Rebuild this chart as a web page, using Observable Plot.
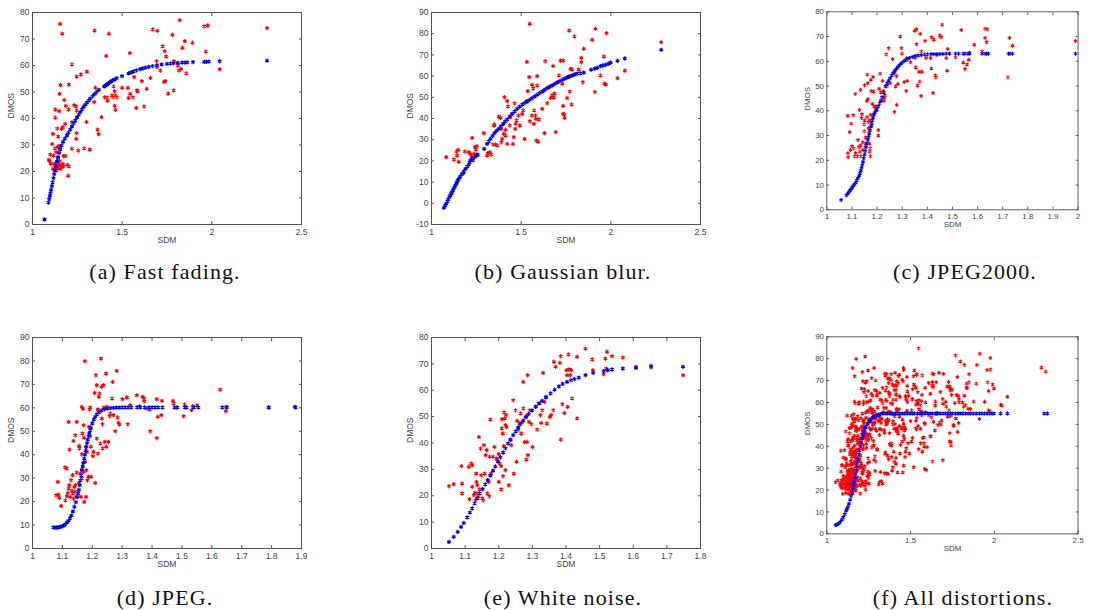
<!DOCTYPE html>
<html><head><meta charset="utf-8">
<script src="https://cdn.jsdelivr.net/npm/d3@7"></script>
<script src="https://cdn.jsdelivr.net/npm/@observablehq/plot@0.6"></script>
<style>
body{margin:0;background:#fff;}
#wrap{position:relative;width:1100px;height:610px;overflow:hidden;background:#fff;}
.panel{position:absolute;}
.cap{position:absolute;font-family:"Liberation Serif","Times New Roman",serif;font-size:22px;letter-spacing:1.1px;line-height:24px;color:#111;white-space:nowrap;transform:translateX(-50%);}
</style></head><body><div id="wrap"></div>
<script>
// ---- (a) Fast fading ----
const ffRed = [[1.154,75.7],[1.166,72],[1.346,73.2],[1.426,72],[1.22,60.4],[1.303,57.7],[1.246,55.8],[1.27,56.6],[1.203,52.8],[1.156,52.6],[1.151,49.3],[1.177,47],[1.186,44.8],[1.233,45],[1.244,44.5],[1.127,43.4],[1.149,42.8],[1.201,43.4],[1.246,43],[1.127,40.3],[1.22,38.6],[1.182,38],[1.162,36.1],[1.138,36.2],[1.169,36.7],[1.114,34.2],[1.143,33.2],[1.246,34.5],[1.244,32.3],[1.11,30.4],[1.14,29.2],[1.147,29.7],[1.125,28.7],[1.22,28.6],[1.288,28.7],[1.32,28.3],[1.255,27.9],[1.099,26.4],[1.117,26],[1.132,27.3],[1.154,28.6],[1.173,25.8],[1.182,25.9],[1.141,24.5],[1.091,24.4],[1.095,23.9],[1.151,23.9],[1.102,22.9],[1.121,22.9],[1.13,22.5],[1.149,22.5],[1.169,22.9],[1.194,22.5],[1.114,21],[1.127,21.6],[1.14,21.3],[1.154,21],[1.164,21.6],[1.134,20.4],[1.203,21.9],[1.199,18.4],[1.147,22.5],[1.173,22],[1.385,40.5],[1.363,35.8],[1.369,34.1],[1.301,38.7],[1.344,46.2],[1.351,51.6],[1.411,63.6],[1.402,48],[1.415,48],[1.419,46.7],[1.443,48.7],[1.449,48],[1.462,48.7],[1.458,50.3],[1.458,44.8],[1.463,43.3],[1.47,48],[1.452,52.1],[1.543,64.7],[1.5,51.6],[1.532,51.6],[1.536,47.8],[1.545,49.3],[1.56,48],[1.567,55.6],[1.579,44],[1.583,50.6],[1.586,50.2],[1.61,54.1],[1.622,44.5],[1.637,51.2],[1.658,55.3],[1.67,73.6],[1.696,73.1],[1.692,61.6],[1.694,59.4],[1.713,58.1],[1.726,67.2],[1.737,65.4],[1.745,63.4],[1.741,54.1],[1.733,53.8],[1.757,49.4],[1.78,71.6],[1.789,61.6],[1.787,50.6],[1.821,77.1],[1.811,60],[1.817,58.1],[1.828,58.7],[1.836,66.7],[1.849,69.2],[1.858,57],[1.892,68.6],[1.957,74.8],[1.977,75.1],[1.966,65.3],[2.044,58.6],[2.308,74.1]];
const ffFit = [[1.067,1.9],[1.089,8.3],[1.093,9.6],[1.097,10.8],[1.1,11.8],[1.104,13.1],[1.108,14.5],[1.112,15.9],[1.117,17.5],[1.121,19],[1.125,20.4],[1.13,22],[1.136,23.8],[1.142,25.4],[1.148,27],[1.154,28.3],[1.162,29.8],[1.17,31.2],[1.18,32.4],[1.192,33.6],[1.2,34.6],[1.21,35.8],[1.22,37],[1.23,38.2],[1.238,39.2],[1.248,40.4],[1.258,41.5],[1.266,42.4],[1.275,43.4],[1.285,44.4],[1.294,45.2],[1.303,46],[1.313,46.8],[1.322,47.5],[1.335,48.4],[1.346,49.2],[1.358,50],[1.37,50.8],[1.4,52.1],[1.408,52.5],[1.415,52.9],[1.422,53.2],[1.43,53.6],[1.438,54],[1.446,54.3],[1.454,54.6],[1.462,54.9],[1.47,55.2],[1.499,56],[1.536,57],[1.55,57.4],[1.564,57.8],[1.58,58.2],[1.601,58.6],[1.615,58.9],[1.63,59.2],[1.648,59.5],[1.67,59.8],[1.694,60.1],[1.72,60.4],[1.75,60.6],[1.77,60.8],[1.787,60.9],[1.81,61],[1.834,61.1],[1.85,61.1],[1.862,61.2],[1.895,61.3],[1.958,61.4],[1.97,61.4],[1.983,61.5],[2.044,61.6],[2.308,61.8]];

// ---- (b) Gaussian blur ----
const gbRed = [[1.082,21.8],[1.125,20.7],[1.139,24.4],[1.149,25.2],[1.143,22.5],[1.152,19.6],[1.186,24.4],[1.208,24.1],[1.217,23.3],[1.223,22.5],[1.227,21.8],[1.232,20.2],[1.227,30.9],[1.242,26.5],[1.247,25.4],[1.253,27],[1.238,23.3],[1.251,23],[1.292,33.1],[1.31,22.5],[1.314,23.6],[1.325,24.1],[1.333,23],[1.344,27.7],[1.351,37.2],[1.348,36.7],[1.357,27.7],[1.366,27.3],[1.375,40.9],[1.385,40.3],[1.388,35.1],[1.394,30.4],[1.39,28.8],[1.4,37.5],[1.403,32.8],[1.413,34.7],[1.407,50.1],[1.422,48.2],[1.426,45.7],[1.413,32],[1.422,28],[1.437,36.7],[1.44,40.6],[1.45,42.2],[1.454,28],[1.459,31.2],[1.463,47.2],[1.47,37.5],[1.474,39.1],[1.467,35.1],[1.485,41.4],[1.493,36.7],[1.532,66.7],[1.537,52.9],[1.506,42.2],[1.511,43.8],[1.519,30.4],[1.53,48.2],[1.545,59.5],[1.548,84.7],[1.549,38.7],[1.56,41.4],[1.561,55.9],[1.567,54.2],[1.571,37.5],[1.572,43.8],[1.58,41.4],[1.582,39.8],[1.584,29.6],[1.589,60],[1.594,29.1],[1.599,39.6],[1.589,55.6],[1.617,44.6],[1.626,53.2],[1.63,33.1],[1.634,67],[1.645,47.2],[1.654,54.7],[1.664,49.7],[1.673,50.9],[1.678,64.8],[1.682,49.9],[1.686,51.8],[1.693,33.6],[1.71,60.3],[1.719,67.3],[1.734,67.3],[1.729,56.4],[1.734,46],[1.734,42.2],[1.74,41.9],[1.742,40.3],[1.756,49.7],[1.764,59.8],[1.768,81.5],[1.771,52.7],[1.775,63.4],[1.781,46.6],[1.784,63.1],[1.797,78.7],[1.821,63.1],[1.835,66.6],[1.835,68.6],[1.844,57.1],[1.849,72.9],[1.896,77.1],[1.914,82.3],[1.911,52.5],[1.942,60.3],[1.961,69.2],[1.965,56.4],[1.976,80.3],[1.972,56],[1.998,66.4],[2.037,59],[2.078,62.6],[2.281,76]];
const gbFit = [[1.069,-2.1],[1.076,-1.1],[1.082,-0.2],[1.088,0.9],[1.093,1.8],[1.1,2.9],[1.105,3.7],[1.11,4.5],[1.114,5.2],[1.119,6],[1.123,6.8],[1.128,7.6],[1.133,8.4],[1.138,9.2],[1.142,10],[1.147,10.8],[1.151,11.4],[1.156,12],[1.16,12.6],[1.17,13.8],[1.177,14.2],[1.18,15],[1.19,16.2],[1.2,17.4],[1.208,18.3],[1.213,19.3],[1.217,20.2],[1.223,20.6],[1.229,21],[1.24,21.8],[1.251,22.5],[1.258,23],[1.294,25.7],[1.31,28],[1.32,29.2],[1.329,30.4],[1.34,31.8],[1.351,33.1],[1.362,34.2],[1.375,35.1],[1.387,36.4],[1.4,37.5],[1.41,38.6],[1.422,39.5],[1.436,40.9],[1.45,42.2],[1.464,43.4],[1.478,44.6],[1.492,45.6],[1.506,46.6],[1.52,47.3],[1.533,48],[1.547,48.8],[1.561,49.6],[1.575,50.4],[1.589,51.2],[1.603,52],[1.617,52.7],[1.631,53.5],[1.645,54.3],[1.659,55],[1.673,55.6],[1.687,56.3],[1.701,57],[1.715,57.6],[1.729,58.2],[1.742,58.8],[1.756,59.3],[1.77,59.8],[1.784,60.3],[1.798,60.8],[1.812,61.2],[1.83,61.3],[1.849,61.6],[1.89,63],[1.91,63.5],[1.924,63.9],[1.942,64.7],[1.955,65],[1.97,65.3],[1.985,65.8],[1.998,66.3],[2.037,67.2],[2.078,68.3],[2.281,72.4]];

// ---- (c) JPEG2000 ----
const ccRed = [[1.084,38],[1.097,34.8],[1.091,31.4],[1.105,38.2],[1.084,22.9],[1.085,21.3],[1.094,24.2],[1.1,25.7],[1.107,24.8],[1.11,21.6],[1.113,46.8],[1.115,22.9],[1.122,21.6],[1.124,28.2],[1.128,25.4],[1.13,40.3],[1.132,23.5],[1.134,26],[1.136,21.6],[1.134,48.4],[1.138,37.1],[1.14,38.6],[1.143,27.3],[1.144,24.2],[1.148,34.5],[1.149,31.7],[1.15,36.1],[1.15,50.3],[1.153,25.4],[1.155,29.2],[1.156,26.7],[1.159,44],[1.16,37.4],[1.161,54.6],[1.163,51.2],[1.164,44.8],[1.165,35.5],[1.166,33],[1.169,32],[1.171,36.1],[1.169,26.7],[1.172,24.8],[1.175,38.4],[1.175,52.5],[1.177,48],[1.179,34],[1.181,42.8],[1.184,53.7],[1.186,47.8],[1.187,41.8],[1.192,41.5],[1.196,41.8],[1.171,23.5],[1.174,21.6],[1.205,32.2],[1.205,30],[1.212,55],[1.208,48.9],[1.215,47.4],[1.217,44],[1.221,52.1],[1.225,48],[1.227,44],[1.231,46.2],[1.228,45.2],[1.236,62.8],[1.246,65.3],[1.239,49.9],[1.252,51.2],[1.262,60.9],[1.27,55.3],[1.274,49.8],[1.277,54],[1.278,42.4],[1.269,39.5],[1.283,50.9],[1.292,70],[1.297,65.3],[1.299,63.1],[1.308,51.6],[1.316,48],[1.32,52.1],[1.318,61.3],[1.333,59.6],[1.349,72.3],[1.357,73],[1.357,66.9],[1.351,61.3],[1.354,57.5],[1.361,50.2],[1.367,55.8],[1.37,51.8],[1.372,71.1],[1.376,64],[1.378,55.8],[1.375,46],[1.391,68.2],[1.395,61.3],[1.413,61.3],[1.416,57.1],[1.417,69.7],[1.426,68.8],[1.423,47.2],[1.432,54.3],[1.434,53.5],[1.438,62.5],[1.45,70.4],[1.455,69.7],[1.459,74.8],[1.475,61.3],[1.479,56.2],[1.481,65],[1.488,63.1],[1.512,61.6],[1.535,72.6],[1.543,59.4],[1.55,56.9],[1.558,58.7],[1.565,60.6],[1.568,63.5],[1.587,66.7],[1.618,64],[1.63,69.4],[1.63,73.2],[1.636,67.7],[1.639,72.9],[1.721,53.5],[1.727,69.4],[1.739,66.3],[1.99,68.2]];
const ccFit = [[1.057,4],[1.078,5.9],[1.083,6.5],[1.088,7.2],[1.092,7.8],[1.097,8.4],[1.101,9],[1.105,9.7],[1.11,10.3],[1.115,10.9],[1.119,11.8],[1.124,12.8],[1.128,13.7],[1.132,14.7],[1.135,15.8],[1.138,16.9],[1.141,18.1],[1.144,19.4],[1.147,20.8],[1.15,22.3],[1.153,23.8],[1.156,25.4],[1.159,26.8],[1.163,28.2],[1.166,29.4],[1.169,30.7],[1.172,32.1],[1.175,33.6],[1.178,34.8],[1.181,36.1],[1.184,37.2],[1.187,38.4],[1.19,39.2],[1.195,40],[1.199,40.5],[1.205,41.8],[1.21,43],[1.215,44],[1.22,45.5],[1.227,47.4],[1.233,49.9],[1.24,51],[1.246,52.1],[1.252,53.2],[1.258,54.3],[1.264,55.3],[1.27,56.2],[1.277,57],[1.283,57.7],[1.289,58.4],[1.295,59],[1.303,59.7],[1.311,60.3],[1.32,60.8],[1.329,61.3],[1.34,61.7],[1.351,62.1],[1.363,62.3],[1.376,62.5],[1.39,62.7],[1.401,62.8],[1.415,62.9],[1.426,62.9],[1.438,63],[1.45,63],[1.462,63],[1.475,63.1],[1.488,63.1],[1.512,63.1],[1.525,63.1],[1.543,63.1],[1.55,63.1],[1.562,63.1],[1.568,63.1],[1.618,63.1],[1.63,63.1],[1.636,63.1],[1.643,63.1],[1.723,63.1],[1.729,63.1],[1.739,63.1],[1.99,63.1]];

// ---- (d) JPEG ----
const jpRed = [[1.085,28.4],[1.079,22.7],[1.087,23],[1.09,21.6],[1.096,18.2],[1.109,34.6],[1.115,34.1],[1.11,20.5],[1.115,22.3],[1.118,23.7],[1.121,25.6],[1.123,27],[1.126,22],[1.124,42.2],[1.121,54],[1.129,29.1],[1.132,24.6],[1.134,31.3],[1.135,23.5],[1.137,21.3],[1.14,26.3],[1.142,24.2],[1.144,27],[1.146,22],[1.137,45.9],[1.143,48.3],[1.148,54],[1.148,32.4],[1.151,23.5],[1.155,28],[1.156,43.8],[1.157,42.7],[1.16,32],[1.162,22],[1.165,29.9],[1.165,40.2],[1.167,49.1],[1.165,60.4],[1.169,59.6],[1.171,52.6],[1.173,47.2],[1.173,19.9],[1.175,79.9],[1.171,32.7],[1.176,37],[1.179,43.4],[1.179,22],[1.18,33.4],[1.182,41.2],[1.184,29.1],[1.187,30.6],[1.189,51.9],[1.191,59.4],[1.193,60.1],[1.193,47.9],[1.195,43.4],[1.196,30.6],[1.202,39.4],[1.204,41.2],[1.208,66.4],[1.21,28],[1.212,73.9],[1.215,69.7],[1.219,59.3],[1.215,46.9],[1.219,40.5],[1.222,64.7],[1.224,66.1],[1.227,44.8],[1.229,81],[1.231,69],[1.232,55.4],[1.234,53],[1.235,42.7],[1.238,69.7],[1.239,60.1],[1.242,45.5],[1.246,74.6],[1.247,43.4],[1.249,60.4],[1.254,45.5],[1.258,56.4],[1.26,57.6],[1.266,64],[1.268,71.1],[1.271,56.9],[1.277,50],[1.282,75.8],[1.285,55.9],[1.288,53.6],[1.291,52.9],[1.301,63.7],[1.316,64.4],[1.319,53],[1.327,61.1],[1.349,65.4],[1.358,60.7],[1.368,64.7],[1.372,64.3],[1.374,62.8],[1.383,59.7],[1.394,50],[1.392,59.3],[1.416,63.7],[1.416,47.1],[1.419,56.2],[1.431,56.9],[1.433,63],[1.47,63],[1.472,61.9],[1.481,60.1],[1.506,56.4],[1.509,61.4],[1.532,59],[1.536,60.7],[1.55,61],[1.628,67.8],[1.648,60.4],[1.647,58.6],[1.79,60.1],[1.877,60.4]];
const jpFit = [[1.07,9],[1.075,8.9],[1.08,8.9],[1.085,9],[1.09,9.1],[1.095,9.3],[1.1,9.5],[1.105,9.9],[1.11,10.3],[1.115,11],[1.12,11.8],[1.125,12.8],[1.13,14],[1.135,15.8],[1.14,17.8],[1.145,19.8],[1.15,22],[1.153,23.5],[1.155,25],[1.158,27],[1.16,29],[1.163,31.2],[1.165,33.5],[1.168,35],[1.17,36.5],[1.173,38.3],[1.175,40],[1.178,41.7],[1.18,43.3],[1.183,45],[1.185,46.5],[1.188,48],[1.19,49.2],[1.193,50.4],[1.195,51.5],[1.2,53.4],[1.205,55],[1.21,56.2],[1.215,57.2],[1.222,58.1],[1.23,58.8],[1.24,59.4],[1.25,59.7],[1.26,59.9],[1.27,60],[1.28,60.1],[1.29,60.1],[1.3,60.2],[1.31,60.2],[1.32,60.2],[1.33,60.2],[1.35,60.2],[1.36,60.2],[1.375,60.2],[1.39,60.2],[1.4,60.2],[1.41,60.2],[1.42,60.2],[1.435,60.2],[1.475,60.2],[1.485,60.2],[1.51,60.2],[1.515,60.2],[1.54,60.2],[1.555,60.2],[1.635,60.2],[1.65,60.2],[1.79,60.2],[1.88,60.2]];

// ---- (e) White noise ----
const wnRed = [[1.052,23.6],[1.066,24.4],[1.089,31.3],[1.091,24.6],[1.091,20.9],[1.111,31],[1.113,18.7],[1.118,32.2],[1.121,31.6],[1.121,23.4],[1.126,20.2],[1.129,21.1],[1.131,18.3],[1.133,28.4],[1.134,25.3],[1.136,24],[1.138,20.9],[1.139,19.6],[1.141,42.3],[1.143,22.4],[1.146,37.9],[1.148,27.8],[1.151,19],[1.154,18.3],[1.156,39.2],[1.158,28.4],[1.161,35.4],[1.164,37.3],[1.166,20.9],[1.17,25.3],[1.172,19.8],[1.173,34.8],[1.175,48.9],[1.177,28.4],[1.183,34.8],[1.187,38.5],[1.193,34.1],[1.195,33.7],[1.2,35.8],[1.203,32.2],[1.2,25.3],[1.207,31.2],[1.207,22.4],[1.209,45.5],[1.21,49],[1.212,43.6],[1.213,27.4],[1.215,38.8],[1.216,51.6],[1.218,49.3],[1.22,46.8],[1.22,29.7],[1.222,50.6],[1.223,46.1],[1.23,24],[1.235,41.1],[1.237,39.2],[1.243,56.2],[1.245,28.4],[1.25,52.4],[1.253,32.9],[1.255,48.4],[1.257,44.9],[1.262,47.4],[1.265,51.2],[1.267,43.6],[1.27,48],[1.273,63.2],[1.273,53.1],[1.277,40.3],[1.28,49.9],[1.282,33.7],[1.284,40.4],[1.285,50.6],[1.286,65.7],[1.287,35.4],[1.29,48],[1.292,52.4],[1.297,47.1],[1.3,38.5],[1.31,53.7],[1.314,45.1],[1.324,50.6],[1.326,47.6],[1.329,52.4],[1.332,66.6],[1.336,55.6],[1.341,57.5],[1.343,47.4],[1.352,49.9],[1.356,50.6],[1.362,52.4],[1.364,70.8],[1.369,68.9],[1.382,70.4],[1.384,72.9],[1.384,41.3],[1.389,54.7],[1.395,51.4],[1.401,67.6],[1.403,65.7],[1.405,53.7],[1.407,73.6],[1.409,67.9],[1.413,65.7],[1.416,67.6],[1.418,56.9],[1.433,49.3],[1.433,72.7],[1.458,75.8],[1.478,71.7],[1.48,67.6],[1.512,66.1],[1.517,72],[1.52,68.2],[1.522,74.6],[1.524,67.6],[1.537,72.9],[1.569,72.4],[1.608,68.9],[1.653,69.3],[1.748,65.7]];
const wnFit = [[1.052,2.5],[1.066,4.4],[1.078,6.3],[1.088,8.2],[1.096,9.7],[1.106,11.8],[1.114,13.6],[1.121,15.2],[1.128,17.1],[1.136,19],[1.144,20.9],[1.152,22.5],[1.16,24.3],[1.167,25.9],[1.175,27.7],[1.183,29.5],[1.19,31.1],[1.198,32.9],[1.205,34.6],[1.213,36.4],[1.22,38],[1.228,39.8],[1.235,41.3],[1.243,43],[1.25,44.4],[1.258,45.9],[1.265,47.2],[1.273,48.5],[1.281,49.8],[1.289,51],[1.299,52.4],[1.31,53.8],[1.32,55],[1.329,56],[1.34,57.3],[1.354,58.8],[1.366,60.2],[1.379,61.5],[1.39,62.4],[1.403,63.2],[1.415,63.8],[1.425,64.2],[1.438,64.8],[1.458,65.7],[1.481,66.6],[1.512,67.2],[1.524,67.6],[1.537,67.9],[1.569,68.2],[1.608,68.5],[1.653,68.8],[1.748,68.9]];

// ---- (f) All distortions: fitted curve ----
const allFit = [[1.052,4],[1.06,4.2],[1.07,4.7],[1.08,5.4],[1.089,6.4],[1.098,7.6],[1.107,9],[1.115,10.5],[1.12,11.4],[1.126,12.3],[1.132,13.8],[1.139,15.6],[1.145,17.3],[1.15,19],[1.154,20.6],[1.158,22.2],[1.162,23.8],[1.167,25.6],[1.171,27.3],[1.175,29],[1.178,30.6],[1.182,32.4],[1.186,34.2],[1.191,36.3],[1.195,38],[1.2,40],[1.204,41.7],[1.21,43.6],[1.215,45.2],[1.219,46.2],[1.225,47.6],[1.231,48.6],[1.237,49.3],[1.245,50.4],[1.252,51.3],[1.259,51.9],[1.268,52.7],[1.276,53.3],[1.283,53.6],[1.292,54],[1.3,54.3],[1.311,54.5],[1.32,54.7],[1.33,54.85],[1.339,55],[1.352,55],[1.363,55],[1.378,55],[1.391,55],[1.407,55],[1.42,55],[1.437,55],[1.452,55],[1.466,55],[1.481,55],[1.497,55],[1.511,55],[1.523,55],[1.541,55],[1.556,55],[1.57,55],[1.586,55],[1.603,55],[1.617,55],[1.63,55],[1.648,55],[1.66,55],[1.677,55],[1.694,55],[1.708,55],[1.722,55],[1.737,55],[1.75,55],[1.768,55],[1.784,55],[1.797,55],[1.812,55],[1.828,55],[1.844,55],[1.858,55],[1.874,55],[1.892,55],[1.911,55],[1.925,55],[1.942,55],[1.958,55],[1.972,55],[1.986,55],[1.998,55],[2.037,55],[2.078,55],[2.298,55],[2.317,55]];
const allRed = [...ffRed, ...gbRed, ...ccRed, ...jpRed, ...wnRed];

// ---- ticks ----
const xTicksWide = [1, 1.5, 2, 2.5];
const xTicksC = [1, 1.1, 1.2, 1.3, 1.4, 1.5, 1.6, 1.7, 1.8, 1.9, 2];
const xTicksD = [1, 1.1, 1.2, 1.3, 1.4, 1.5, 1.6, 1.7, 1.8, 1.9];
const xTicksE = [1, 1.1, 1.2, 1.3, 1.4, 1.5, 1.6, 1.7, 1.8];
const yTicks80 = [0, 10, 20, 30, 40, 50, 60, 70, 80];
const yTicks90 = [0, 10, 20, 30, 40, 50, 60, 70, 80, 90];
const yTicksB = [-10, 0, 10, 20, 30, 40, 50, 60, 70, 80, 90];
const captions = ["(a) Fast fading.", "(b) Gaussian blur.", "(c) JPEG2000.", "(d) JPEG.", "(e) White noise.", "(f) All distortions."];

const panels = [
  {red: ffRed, fit: ffFit, xd: [1, 2.5], yd: [0, 80], xt: xTicksWide, yt: yTicks80, L: 32, R: 301, T: 12, B: 224, cx: 165, cy: 272},
  {red: gbRed, fit: gbFit, xd: [1, 2.5], yd: [-10, 90], xt: xTicksWide, yt: yTicksB, L: 431, R: 700, T: 12, B: 224, cx: 563, cy: 272},
  {red: ccRed, fit: ccFit, xd: [1, 2], yd: [0, 80], xt: xTicksC, yt: yTicks80, L: 829, R: 1098, T: 12, B: 224, cx: 965, cy: 272},
  {red: jpRed, fit: jpFit, xd: [1, 1.9], yd: [0, 90], xt: xTicksD, yt: yTicks90, L: 32, R: 301, T: 337, B: 548, cx: 165, cy: 598},
  {red: wnRed, fit: wnFit, xd: [1, 1.8], yd: [0, 80], xt: xTicksE, yt: yTicks80, L: 431, R: 700, T: 337, B: 548, cx: 563, cy: 598},
  {red: allRed, fit: allFit, xd: [1, 2.5], yd: [0, 90], xt: xTicksWide, yt: yTicks90, L: 829, R: 1098, T: 337, B: 548, cx: 963, cy: 598}
];

const wrap = document.getElementById("wrap");
const toObj = a => a.map(([x, y]) => ({x, y}));
const fmt = d => String(d);
const blank = () => "";
const mL = 40, mR = 24, mT = 10, mB = 30;
const axisColor = "#555";

panels.forEach((p, i) => {
  const w = (p.R - p.L) + mL + mR;
  const h = (p.B - p.T) + mT + mB;
  const chart = Plot.plot({
    width: w, height: h,
    marginLeft: mL, marginRight: mR, marginTop: mT, marginBottom: mB,
    x: {domain: p.xd},
    y: {domain: p.yd},
    style: {fontFamily: "'Liberation Sans', Arial, sans-serif", fontSize: "8.5px", color: "#444", background: "transparent", overflow: "visible"},
    marks: [
      Plot.dot(toObj(p.red), {x: "x", y: "y", symbol: "asterisk", r: 2, stroke: "#ff0000", strokeWidth: 1.1}),
      Plot.dot(toObj(p.fit), {x: "x", y: "y", symbol: "asterisk", r: 2, stroke: "#0000ff", strokeWidth: 1.2}),
      Plot.frame({stroke: axisColor, strokeWidth: 1}),
      Plot.axisX({ticks: p.xt, tickSize: 0, tickPadding: 4, tickFormat: fmt, label: null, fill: "#444"}),
      Plot.axisX({ticks: p.xt, tickSize: -3, tickFormat: blank, label: null, stroke: axisColor}),
      Plot.axisX({anchor: "top", ticks: p.xt, tickSize: -3, tickFormat: blank, label: null, stroke: axisColor}),
      Plot.axisY({ticks: p.yt, tickSize: 0, tickPadding: 3, tickFormat: fmt, label: null, fill: "#444"}),
      Plot.axisY({ticks: p.yt, tickSize: -3, tickFormat: blank, label: null, stroke: axisColor}),
      Plot.axisY({anchor: "right", ticks: p.yt, tickSize: -3, tickFormat: blank, label: null, stroke: axisColor}),
      Plot.text(["SDM"], {frameAnchor: "bottom", dy: 18, text: d => d, fill: "#444"}),
      Plot.text(["DMOS"], {frameAnchor: "left", dx: -21, rotate: -90, text: d => d, fill: "#444"})
    ]
  });
  const div = document.createElement("div");
  div.className = "panel";
  div.style.left = (p.L - mL) + "px";
  div.style.top = (p.T - mT) + "px";
  div.appendChild(chart);
  wrap.appendChild(div);
  const cap = document.createElement("div");
  cap.className = "cap";
  cap.textContent = captions[i];
  cap.style.left = p.cx + "px";
  cap.style.top = (p.cy - 12) + "px";
  wrap.appendChild(cap);
});
</script>
</body></html>
